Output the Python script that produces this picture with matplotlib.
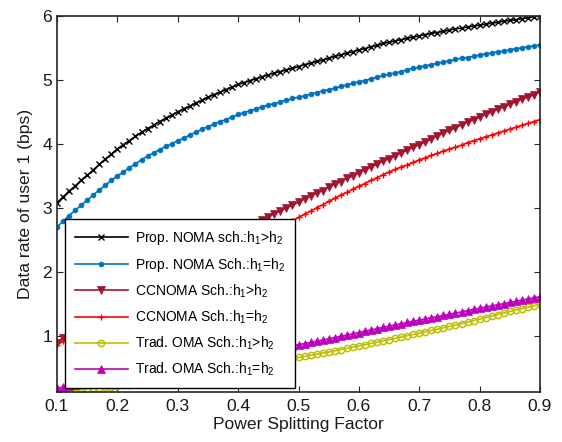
import numpy as np
import matplotlib
matplotlib.use("Agg")
import matplotlib.pyplot as plt

plt.rcParams['font.family'] = ['Liberation Sans', 'DejaVu Sans']
plt.rcParams['mathtext.fontset'] = 'custom'
plt.rcParams['mathtext.rm'] = 'Liberation Sans'
plt.rcParams['mathtext.it'] = 'Liberation Sans:italic'
plt.rcParams['mathtext.default'] = 'regular'

power_split = np.linspace(0.1, 0.9, 81)

prop_noma_gt = [3.08, 3.17, 3.26, 3.34, 3.43, 3.51,
                3.59, 3.68, 3.76, 3.84, 3.92,
                3.99, 4.05, 4.12, 4.18, 4.24,
                4.29, 4.35, 4.40, 4.45, 4.50,
                4.55, 4.59, 4.64, 4.68, 4.73,
                4.77, 4.81, 4.85, 4.89, 4.93,
                4.96, 4.99, 5.02, 5.05, 5.08,
                5.11, 5.13, 5.16, 5.18, 5.21,
                5.24, 5.26, 5.29, 5.31, 5.34,
                5.37, 5.39, 5.42, 5.44, 5.47,
                5.49, 5.52, 5.54, 5.57, 5.59,
                5.61, 5.63, 5.65, 5.67, 5.69,
                5.71, 5.73, 5.74, 5.76, 5.78,
                5.80, 5.81, 5.83, 5.84, 5.86,
                5.87, 5.89, 5.90, 5.92, 5.93,
                5.94, 5.96, 5.97, 5.99, 6.00]

prop_noma_eq = [2.70, 2.79, 2.88, 2.96, 3.04, 3.12,
                3.20, 3.28, 3.35, 3.43, 3.50,
                3.56, 3.63, 3.69, 3.75, 3.81,
                3.86, 3.91, 3.96, 4.00, 4.05,
                4.09, 4.14, 4.18, 4.23, 4.27,
                4.31, 4.35, 4.38, 4.42, 4.46,
                4.49, 4.52, 4.55, 4.58, 4.61,
                4.63, 4.66, 4.68, 4.71, 4.73,
                4.75, 4.78, 4.80, 4.83, 4.85,
                4.87, 4.90, 4.92, 4.95, 4.97,
                4.99, 5.02, 5.04, 5.07, 5.09,
                5.11, 5.13, 5.16, 5.18, 5.20,
                5.22, 5.24, 5.26, 5.28, 5.30,
                5.32, 5.34, 5.35, 5.37, 5.39,
                5.41, 5.42, 5.44, 5.45, 5.47,
                5.49, 5.50, 5.52, 5.53, 5.55]

ccnoma_gt = [0.89, 0.97, 1.05, 1.12, 1.20, 1.27,
             1.34, 1.40, 1.47, 1.53, 1.59,
             1.65, 1.71, 1.76, 1.82, 1.88,
             1.93, 1.99, 2.04, 2.10, 2.15,
             2.20, 2.25, 2.30, 2.35, 2.40,
             2.45, 2.49, 2.54, 2.58, 2.63,
             2.68, 2.72, 2.77, 2.81, 2.86,
             2.91, 2.95, 3.00, 3.04, 3.09,
             3.14, 3.18, 3.23, 3.27, 3.32,
             3.37, 3.41, 3.46, 3.50, 3.55,
             3.59, 3.64, 3.68, 3.73, 3.77,
             3.81, 3.86, 3.90, 3.95, 3.99,
             4.03, 4.08, 4.12, 4.17, 4.21,
             4.25, 4.30, 4.34, 4.38, 4.42,
             4.46, 4.50, 4.54, 4.58, 4.62,
             4.66, 4.70, 4.73, 4.77, 4.81]

ccnoma_eq = [0.86, 0.91, 0.96, 1.01, 1.06, 1.11,
             1.16, 1.21, 1.26, 1.31, 1.36,
             1.41, 1.46, 1.51, 1.56, 1.61,
             1.66, 1.71, 1.77, 1.82, 1.87,
             1.92, 1.97, 2.02, 2.07, 2.12,
             2.17, 2.22, 2.27, 2.32, 2.37,
             2.42, 2.47, 2.51, 2.56, 2.61,
             2.66, 2.71, 2.75, 2.80, 2.85,
             2.90, 2.95, 3.00, 3.05, 3.10,
             3.15, 3.20, 3.24, 3.29, 3.34,
             3.38, 3.43, 3.47, 3.52, 3.56,
             3.60, 3.64, 3.67, 3.71, 3.75,
             3.78, 3.82, 3.85, 3.89, 3.92,
             3.95, 3.98, 4.02, 4.05, 4.08,
             4.11, 4.14, 4.17, 4.20, 4.23,
             4.26, 4.29, 4.32, 4.35, 4.38]

trad_oma_gt = [0.120, 0.129, 0.138, 0.147, 0.156, 0.165,
               0.175, 0.185, 0.195, 0.205, 0.215,
               0.226, 0.237, 0.248, 0.259, 0.270,
               0.283, 0.296, 0.309, 0.322, 0.335,
               0.350, 0.365, 0.380, 0.395, 0.410,
               0.427, 0.444, 0.461, 0.478, 0.495,
               0.512, 0.528, 0.545, 0.561, 0.578,
               0.594, 0.611, 0.627, 0.644, 0.660,
               0.677, 0.694, 0.711, 0.728, 0.745,
               0.764, 0.783, 0.802, 0.821, 0.840,
               0.860, 0.880, 0.900, 0.920, 0.940,
               0.960, 0.980, 1.000, 1.020, 1.040,
               1.061, 1.082, 1.103, 1.124, 1.145,
               1.168, 1.191, 1.214, 1.237, 1.260,
               1.284, 1.308, 1.332, 1.356, 1.380,
               1.402, 1.424, 1.446, 1.468, 1.490]

trad_oma_eq = [0.180, 0.195, 0.210, 0.225, 0.240, 0.255,
               0.271, 0.287, 0.303, 0.319, 0.335,
               0.351, 0.367, 0.383, 0.399, 0.415,
               0.432, 0.449, 0.466, 0.483, 0.500,
               0.517, 0.534, 0.551, 0.568, 0.585,
               0.603, 0.621, 0.639, 0.657, 0.675,
               0.693, 0.711, 0.729, 0.747, 0.765,
               0.784, 0.803, 0.822, 0.841, 0.860,
               0.878, 0.896, 0.914, 0.932, 0.950,
               0.970, 0.990, 1.010, 1.030, 1.050,
               1.070, 1.090, 1.110, 1.130, 1.150,
               1.169, 1.188, 1.207, 1.226, 1.245,
               1.263, 1.281, 1.299, 1.317, 1.335,
               1.354, 1.373, 1.392, 1.411, 1.430,
               1.448, 1.466, 1.484, 1.502, 1.520,
               1.538, 1.556, 1.574, 1.592, 1.610]

labels = [r'Prop. NOMA sch.:h$_1$>h$_2$',
          r'Prop. NOMA Sch.:h$_1$=h$_2$',
          r'CCNOMA Sch.:h$_1$>h$_2$',
          r'CCNOMA Sch.:h$_1$=h$_2$',
          r'Trad. OMA Sch.:h$_1$>h$_2$',
          r'Trad. OMA Sch.:h$_1$=h$_2$']

x_ticks = [0.1, 0.2, 0.3, 0.4, 0.5, 0.6, 0.7, 0.8, 0.9]
y_ticks = [1, 2, 3, 4, 5, 6]

fig = plt.figure(figsize=(5.62, 4.42), dpi=100)
ax = fig.add_axes([0.1014, 0.1131, 0.8595, 0.8507])

ax.plot(power_split, prop_noma_gt, color='black', marker='x', ms=4.5, mew=1.0, lw=1.2, label=labels[0])
ax.plot(power_split, prop_noma_eq, color='#0072BD', marker='o', ms=3.5, mew=0.5, lw=1.2, label=labels[1])
ax.plot(power_split, ccnoma_gt, color='#A2142F', marker='v', ms=5.5, mew=0.5, lw=1.2, label=labels[2])
ax.plot(power_split, ccnoma_eq, color='#FF0000', marker='+', ms=4.5, mew=1.0, lw=1.2, label=labels[3])
ax.plot(power_split, trad_oma_gt, color='#BFBF00', marker='o', ms=4.5, mew=1.1, mfc='none', lw=1.2, label=labels[4])
ax.plot(power_split, trad_oma_eq, color='#BF00BF', marker='^', ms=5.5, mew=0.5, lw=1.2, label=labels[5])

ax.set_xlim(0.1, 0.9)
ax.set_ylim(0.12, 6)
ax.set_xticks(x_ticks)
ax.set_xticklabels([f'{t:g}' for t in x_ticks])
ax.set_yticks(y_ticks)
ax.tick_params(direction='in', length=4, width=0.8, top=True, right=True,
               labelsize=12.6, colors='#262626', labelcolor='#1a1a1a')
ax.tick_params(axis='x', pad=5)
ax.tick_params(axis='y', pad=3.5)
for s in ax.spines.values():
    s.set_linewidth(1.2)
    s.set_color('#262626')

ax.set_xlabel('Power Splitting Factor', fontsize=12.6, color='#1a1a1a', labelpad=2)
ax.set_ylabel('Data rate of user 1 (bps)', fontsize=12.6, color='#1a1a1a', labelpad=7)

leg = ax.legend(loc='lower left', bbox_to_anchor=(0.0166, 0.011), borderaxespad=0,
                fontsize=10, handlelength=3.85, handletextpad=0.5, labelspacing=0.63,
                fancybox=False, framealpha=1, edgecolor='black', borderpad=0.7)
leg.get_frame().set_linewidth(1.0)

fig.savefig('out.png', dpi=100)
